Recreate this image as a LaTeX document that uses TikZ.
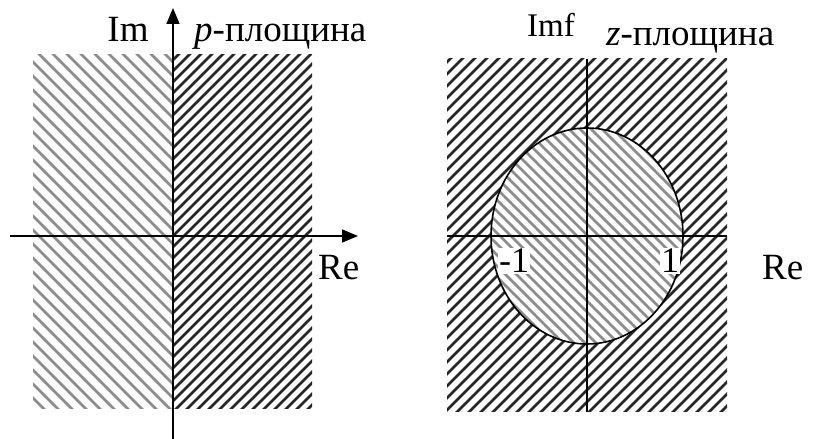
\documentclass[tikz,border=0pt]{standalone}
\usepackage{fontspec}
\setmainfont{Liberation Serif}
\usetikzlibrary{arrows.meta}
\tikzset{
  axis/.style={line width=1.6pt, black},
  axisarrow/.style={axis, -{Triangle[length=16pt,width=13pt]}},
  darkhatch/.style={line width=2.8pt, black!85},
  lighthatch/.style={line width=2.6pt, black!45},
  lbl/.style={font=\fontsize{37}{40}\selectfont, inner sep=0pt},
  smalllbl/.style={font=\fontsize{33}{36}\selectfont, inner sep=0pt},
  numlbl/.style={font=\fontsize{36}{38}\selectfont, inner sep=1pt, fill=white}
}
\begin{document}
\begin{tikzpicture}[x=1pt,y=1pt]
\useasboundingbox (0,0) rectangle (814,439);
% ---------- left panel ----------
\begin{scope}
  \clip (33,30) rectangle (173,384);
  \foreach \c in {-600,-586,...,420} \draw[lighthatch] (\c,450) -- ++(600,-600);
\end{scope}
\begin{scope}
  \clip (173,30) rectangle (312,384);
  \foreach \c in {-400,-389,...,700} \draw[darkhatch] (\c,-150) -- ++(600,600);
\end{scope}
\coordinate (lyb) at (173,0);
\coordinate (lyt) at (173,431);
\coordinate (lxl) at (10,203);
\coordinate (lxr) at (358,203);
\draw[axisarrow] (lyb) -- (lyt);
\draw[axisarrow] (lxl) -- (lxr);
\node[lbl, anchor=base] (im) at (128,397) {Im};
\node[lbl, anchor=base west] (pp) at (194,397) {\textit{p}-площина};
\node[lbl, anchor=base west] (re1) at (318,159) {Re};
% ---------- right panel ----------
\begin{scope}
  \clip (447,27) rectangle (727,380);
  \foreach \c in {-200,-188,...,900} \draw[darkhatch] (\c,-150) -- ++(600,600);
  \fill[white] (587,203) ellipse [x radius=96, y radius=108];
  \clip (587,203) ellipse [x radius=96, y radius=108];
  \foreach \c in {0,11,...,1200} \draw[lighthatch] (\c,450) -- ++(600,-600);
\end{scope}
\draw[line width=1.6pt] (587,203) ellipse [x radius=96, y radius=108];
\coordinate (ryb) at (587,27);
\coordinate (ryt) at (587,380);
\coordinate (rxl) at (447,203);
\coordinate (rxr) at (727,203);
\draw[axis] (ryb) -- (ryt);
\draw[axis] (rxl) -- (rxr);
\node[numlbl, anchor=base west] (m1) at (498,166) {-1};
\node[numlbl, anchor=base west] (p1) at (660,166) {1};
\node[smalllbl, anchor=base west] (imf) at (527,402) {Imf};
\node[lbl, anchor=base west] (zp) at (606,393) {\textit{z}-площина};
\node[lbl, anchor=base west] (re2) at (762,159) {Re};
\end{tikzpicture}
\end{document}
